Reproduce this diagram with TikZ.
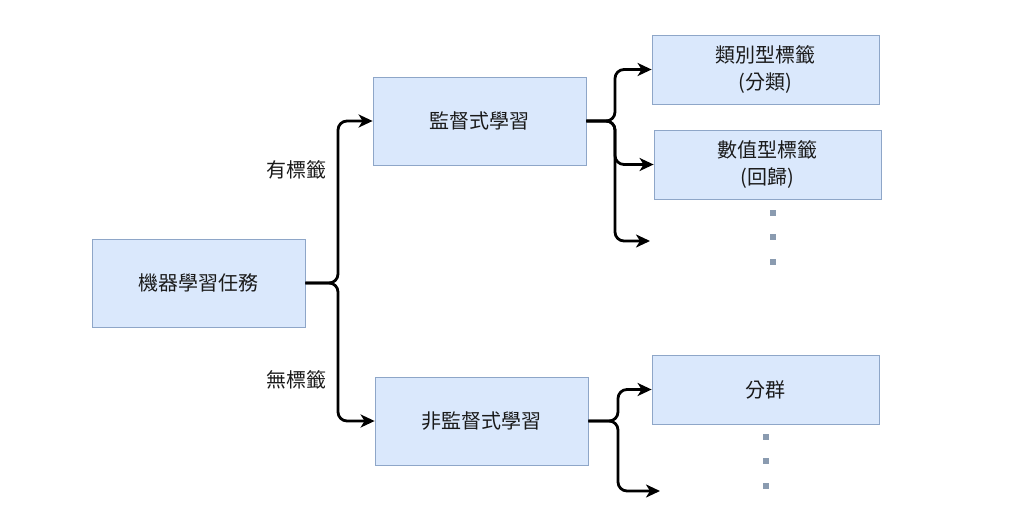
\documentclass[tikz,border=0pt]{standalone}
\usepackage{fontspec}
\setmainfont{Noto Sans CJK TC}
\usetikzlibrary{arrows.meta}
\definecolor{boxfill}{HTML}{DAE8FC}
\definecolor{boxline}{HTML}{8EA6C8}
\definecolor{dotcol}{HTML}{8A9BB0}
\definecolor{txt}{HTML}{1A1A1A}
\tikzset{
  box/.style={draw=boxline, line width=0.8pt, fill=boxfill, minimum width=#1, inner sep=0pt, text=txt, align=center, font=\fontsize{20}{27}\selectfont},
  bigbox/.style={box=213pt, minimum height=88pt},
  leafbox/.style={box=227pt, minimum height=69pt},
  conn/.style={line width=2.8pt, rounded corners=9pt, -{Stealth[length=14pt,width=13pt,inset=4pt]}},
  lbl/.style={text=txt, font=\fontsize{20}{24}\selectfont, inner sep=0pt},
  dot/.style={fill=dotcol, minimum size=6pt, inner sep=0pt}
}
\begin{document}
\begin{tikzpicture}[x=1pt,y=-1pt]
\useasboundingbox (0,0) rectangle (1024,519);
\node[bigbox] (root) at (198.5,283) {機器學習任務};
\node[bigbox] (sup) at (479.5,121) {監督式學習};
\node[bigbox] (unsup) at (481.5,421) {非監督式學習};
\node[leafbox] (cls) at (765.5,69.5) {類別型標籤\\(分類)};
\node[leafbox] (num) at (767.5,164.5) {數值型標籤\\(回歸)};
\node[leafbox] (clu) at (765.5,389.5) {分群};
\node[lbl] (l1) at (296,170) {有標籤};
\node[lbl] (l2) at (296,380) {無標籤};
\coordinate (bus) at (338,283);
\coordinate (sbus) at (615,121);
\coordinate (ubus) at (618,421);
\coordinate (send) at (650,241);
\coordinate (uend) at (660,491);
\draw[conn] (root.east) -- (bus) |- (sup.west);
\draw[conn] (root.east) -- (bus) |- (unsup.west);
\draw[conn] (sup.east) -- (sbus) |- (cls.west);
\draw[conn] (sup.east) -- (sbus) |- (num.west);
\draw[conn] (sup.east) -- (sbus) |- (send);
\draw[conn] (unsup.east) -- (ubus) |- (clu.west);
\draw[conn] (unsup.east) -- (ubus) |- (uend);
\node[dot] (d1) at (773,213) {};
\node[dot] (d2) at (773,237) {};
\node[dot] (d3) at (773,262) {};
\node[dot] (d4) at (766,437) {};
\node[dot] (d5) at (766,461) {};
\node[dot] (d6) at (766,486) {};
\end{tikzpicture}
\end{document}
